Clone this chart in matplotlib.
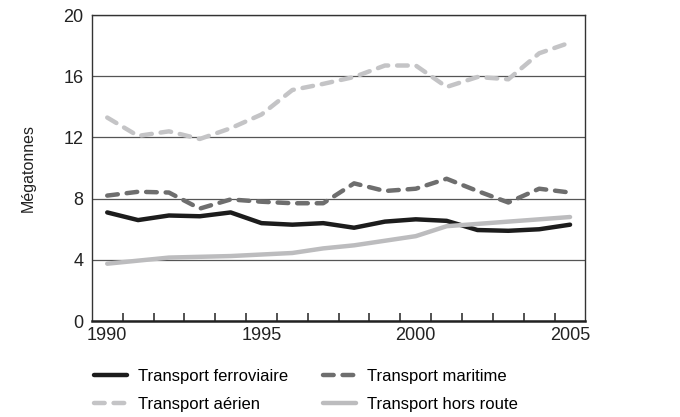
import matplotlib
matplotlib.use("Agg")
import matplotlib.pyplot as plt

plt.rcParams['font.family'] = ['Liberation Sans', 'DejaVu Sans']

years = list(range(1990, 2006))
ferroviaire = [7.1, 6.6, 6.9, 6.85, 7.1, 6.4, 6.3, 6.4, 6.1, 6.5, 6.65, 6.55, 5.95, 5.9, 6.0, 6.3]
maritime = [8.2, 8.45, 8.4, 7.35, 7.95, 7.8, 7.7, 7.7, 9.0, 8.5, 8.65, 9.3, 8.5, 7.75, 8.65, 8.4]
aerien = [13.3, 12.1, 12.4, 11.9, 12.6, 13.5, 15.1, 15.5, 15.95, 16.7, 16.7, 15.3, 15.95, 15.8, 17.5, 18.2]
hors_route = [3.75, 3.95, 4.15, 4.2, 4.25, 4.35, 4.45, 4.75, 4.95, 5.25, 5.55, 6.2, 6.35, 6.5, 6.65, 6.8]

labels = ["Transport ferroviaire", "Transport maritime", "Transport aérien", "Transport hors route"]

fig = plt.figure(figsize=(6.8, 4.17), dpi=100)
ax = fig.add_axes([0.135, 0.230, 0.726, 0.734])

l1, = ax.plot(years, ferroviaire, color='#1c1c1c', lw=3.2, solid_capstyle='round')
l2, = ax.plot(years, maritime, color='#6e6e6e', lw=3.2, dashes=(2.4, 2.0), dash_capstyle='round')
l3, = ax.plot(years, aerien, color='#c4c4c6', lw=3.2, dashes=(2.4, 2.0), dash_capstyle='round')
l4, = ax.plot(years, hors_route, color='#bcbcbe', lw=3.2, solid_capstyle='round')

ax.set_xlim(1989.5, 2005.5)
ax.set_ylim(0, 20)
ax.set_yticks([0, 4, 8, 12, 16, 20])
ax.yaxis.grid(True, color='#555555', lw=0.9)
ax.set_axisbelow(True)
ax.tick_params(axis='y', length=0, labelsize=13, pad=6, colors='#222222')

ax.set_xticks([1990, 1995, 2000, 2005])
ax.set_xticks([y + 0.5 for y in range(1990, 2005)], minor=True)
ax.tick_params(axis='x', which='major', length=0, labelsize=13, pad=4, colors='#222222')
ax.tick_params(axis='x', which='minor', direction='in', length=6, width=1.2, color='#333333')

for s in ['left', 'right', 'top']:
    ax.spines[s].set_color('#333333')
    ax.spines[s].set_linewidth(1.0)
ax.spines['bottom'].set_color('#222222')
ax.spines['bottom'].set_linewidth(1.8)

ax.set_ylabel("Mégatonnes", fontsize=11.5, labelpad=20, color='#222222')

fig.legend([l1, l3, l2, l4], [labels[0], labels[2], labels[1], labels[3]],
           ncol=2, loc='upper left', bbox_to_anchor=(0.138, 0.116),
           frameon=False, fontsize=12, handlelength=2.0, columnspacing=2.1,
           labelspacing=0.8, handletextpad=0.65, borderaxespad=0,
           borderpad=0)

fig.savefig("out.png", dpi=100)
